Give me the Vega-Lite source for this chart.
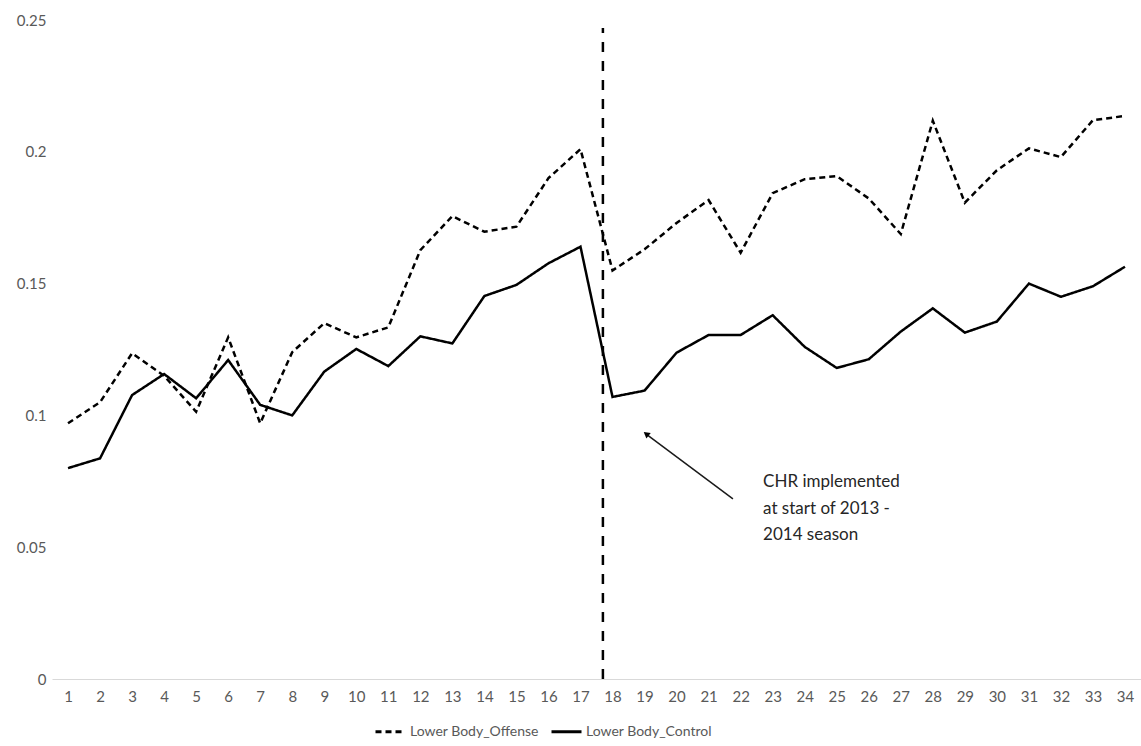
{
  "$schema": "https://vega.github.io/schema/vega-lite/v6.json",
  "autosize": "none",
  "width": 1089,
  "height": 659,
  "padding": {"left": 52, "top": 20, "right": 0, "bottom": 67},
  "background": "white",
  "config": {"view": {"stroke": null}, "font": "Lato"},
  "resolve": {"scale": {"x": "independent"}, "axis": {"x": "independent"}},
  "datasets": {
    "series": [
      {"x":1,"s":"Lower Body_Offense","v":0.097},{"x":2,"s":"Lower Body_Offense","v":0.105},{"x":3,"s":"Lower Body_Offense","v":0.1236},{"x":4,"s":"Lower Body_Offense","v":0.115},{"x":5,"s":"Lower Body_Offense","v":0.1014},{"x":6,"s":"Lower Body_Offense","v":0.1296},{"x":7,"s":"Lower Body_Offense","v":0.097},{"x":8,"s":"Lower Body_Offense","v":0.124},{"x":9,"s":"Lower Body_Offense","v":0.135},{"x":10,"s":"Lower Body_Offense","v":0.1296},{"x":11,"s":"Lower Body_Offense","v":0.1334},{"x":12,"s":"Lower Body_Offense","v":0.1627},{"x":13,"s":"Lower Body_Offense","v":0.1756},{"x":14,"s":"Lower Body_Offense","v":0.1697},{"x":15,"s":"Lower Body_Offense","v":0.1716},{"x":16,"s":"Lower Body_Offense","v":0.19},{"x":17,"s":"Lower Body_Offense","v":0.201},{"x":18,"s":"Lower Body_Offense","v":0.155},{"x":19,"s":"Lower Body_Offense","v":0.163},{"x":20,"s":"Lower Body_Offense","v":0.173},{"x":21,"s":"Lower Body_Offense","v":0.1817},{"x":22,"s":"Lower Body_Offense","v":0.1617},{"x":23,"s":"Lower Body_Offense","v":0.1843},{"x":24,"s":"Lower Body_Offense","v":0.1896},{"x":25,"s":"Lower Body_Offense","v":0.1908},{"x":26,"s":"Lower Body_Offense","v":0.1823},{"x":27,"s":"Lower Body_Offense","v":0.1688},{"x":28,"s":"Lower Body_Offense","v":0.2118},{"x":29,"s":"Lower Body_Offense","v":0.1807},{"x":30,"s":"Lower Body_Offense","v":0.193},{"x":31,"s":"Lower Body_Offense","v":0.2013},{"x":32,"s":"Lower Body_Offense","v":0.198},{"x":33,"s":"Lower Body_Offense","v":0.212},{"x":34,"s":"Lower Body_Offense","v":0.2136},
      {"x":1,"s":"Lower Body_Control","v":0.080},{"x":2,"s":"Lower Body_Control","v":0.0837},{"x":3,"s":"Lower Body_Control","v":0.1077},{"x":4,"s":"Lower Body_Control","v":0.1157},{"x":5,"s":"Lower Body_Control","v":0.1065},{"x":6,"s":"Lower Body_Control","v":0.121},{"x":7,"s":"Lower Body_Control","v":0.104},{"x":8,"s":"Lower Body_Control","v":0.100},{"x":9,"s":"Lower Body_Control","v":0.1166},{"x":10,"s":"Lower Body_Control","v":0.1252},{"x":11,"s":"Lower Body_Control","v":0.1187},{"x":12,"s":"Lower Body_Control","v":0.130},{"x":13,"s":"Lower Body_Control","v":0.1273},{"x":14,"s":"Lower Body_Control","v":0.1453},{"x":15,"s":"Lower Body_Control","v":0.1495},{"x":16,"s":"Lower Body_Control","v":0.1577},{"x":17,"s":"Lower Body_Control","v":0.164},{"x":18,"s":"Lower Body_Control","v":0.107},{"x":19,"s":"Lower Body_Control","v":0.1094},{"x":20,"s":"Lower Body_Control","v":0.1238},{"x":21,"s":"Lower Body_Control","v":0.1305},{"x":22,"s":"Lower Body_Control","v":0.1305},{"x":23,"s":"Lower Body_Control","v":0.138},{"x":24,"s":"Lower Body_Control","v":0.126},{"x":25,"s":"Lower Body_Control","v":0.118},{"x":26,"s":"Lower Body_Control","v":0.1213},{"x":27,"s":"Lower Body_Control","v":0.1318},{"x":28,"s":"Lower Body_Control","v":0.1406},{"x":29,"s":"Lower Body_Control","v":0.1314},{"x":30,"s":"Lower Body_Control","v":0.1356},{"x":31,"s":"Lower Body_Control","v":0.150},{"x":32,"s":"Lower Body_Control","v":0.145},{"x":33,"s":"Lower Body_Control","v":0.149},{"x":34,"s":"Lower Body_Control","v":0.1564}
    ],
    "vline": [{"x": 17.7, "y": 0, "y2": 0.247}],
    "arrow": [{"x": 21.76, "y": 0.0683, "x2": 19.02, "y2": 0.0932}],
    "head": [{"x": 19.05, "y": 0.093}],
    "note": [
      {"x": 22.7, "y": 0.0747, "t": "CHR implemented"},
      {"x": 22.7, "y": 0.0645, "t": "at start of 2013  -"},
      {"x": 22.7, "y": 0.0546, "t": "2014 season"}
    ]
  },
  "layer": [
    {
      "data": {"name": "series"},
      "mark": {"type": "line", "color": "black", "strokeWidth": 2.5},
      "encoding": {
        "x": {"field": "x", "type": "ordinal",
          "scale": {"type": "point", "padding": 0.5},
          "axis": {"title": null, "labelOverlap": false, "labelAngle": 0,
            "ticks": false, "grid": false, "domainColor": "#d9d9d9", "domainWidth": 1,
            "labelColor": "#595959", "labelFontSize": 15, "labelPadding": 10, "labelFont": "Lato"}},
        "y": {"field": "v", "type": "quantitative",
          "scale": {"domain": [0, 0.25], "nice": false},
          "axis": {"title": null, "values": [0, 0.05, 0.1, 0.15, 0.2, 0.25], "format": "~g", "labelFlush": false, "ticks": false, "domain": false, "grid": false,
            "labelColor": "#595959", "labelFontSize": 15, "labelPadding": 6, "labelFont": "Lato"}},
        "strokeDash": {"field": "s", "type": "nominal",
          "scale": {"domain": ["Lower Body_Offense", "Lower Body_Control"], "range": [[6, 4], [1, 0]]},
          "legend": {"title": null, "orient": "none", "legendX": 322, "legendY": 695, "direction": "horizontal",
            "symbolType": "stroke", "symbolSize": 900, "symbolStrokeWidth": 3, "symbolStrokeColor": "black",
            "labelFontSize": 14, "labelColor": "#595959", "labelFont": "Lato", "columnPadding": 6, "labelOffset": 3}}
      }
    },
    {
      "layer": [
        {
          "data": {"name": "vline"},
          "mark": {"type": "rule", "color": "black", "strokeWidth": 2.5, "strokeDash": [10, 9]},
          "encoding": {
            "x": {"field": "x", "type": "quantitative", "scale": {"domain": [0.5, 34.5], "nice": false, "zero": false}, "axis": null},
            "y": {"field": "y", "type": "quantitative"},
            "y2": {"field": "y2"}
          }
        },
        {
          "data": {"name": "arrow"},
          "mark": {"type": "rule", "color": "#1a1a1a", "strokeWidth": 1.5},
          "encoding": {
            "x": {"field": "x", "type": "quantitative", "axis": null},
            "y": {"field": "y", "type": "quantitative"},
            "x2": {"field": "x2"},
            "y2": {"field": "y2"}
          }
        },
        {
          "data": {"name": "head"},
          "mark": {"type": "point", "shape": "triangle-up", "filled": true, "color": "black", "size": 50, "angle": 308, "opacity": 1},
          "encoding": {
            "x": {"field": "x", "type": "quantitative", "axis": null},
            "y": {"field": "y", "type": "quantitative"}
          }
        },
        {
          "data": {"name": "note"},
          "mark": {"type": "text", "align": "left", "baseline": "middle", "fontSize": 17, "color": "#262626", "font": "Lato"},
          "encoding": {
            "x": {"field": "x", "type": "quantitative", "axis": null},
            "y": {"field": "y", "type": "quantitative"},
            "text": {"field": "t"}
          }
        }
      ]
    }
  ]
}
